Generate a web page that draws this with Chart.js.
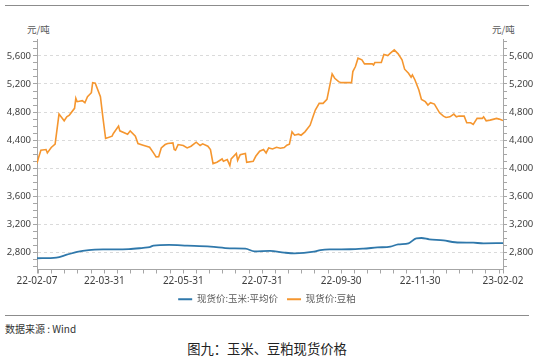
<!DOCTYPE html>
<html><head><meta charset="utf-8">
<script src="https://cdn.jsdelivr.net/npm/chart.js@4"></script>
<style>
html,body{margin:0;padding:0;background:#fff;width:534px;height:358px;overflow:hidden;font-family:"Noto Sans","Noto Sans CJK SC",sans-serif}
#wrap{position:absolute;left:0;top:0;width:534px;height:314px}
.rule{position:absolute;left:5px;width:524px;height:0;border-top:1.5px solid #8c8c8c}
.unit{position:absolute;top:22px;font-size:9.5px;color:#595959;font-family:"Noto Sans CJK SC",sans-serif}
#src{position:absolute;left:5px;top:321px;font-size:10px;color:#333;font-family:"Noto Sans CJK SC",sans-serif}
#title{position:absolute;left:0;width:534px;top:339px;text-align:center;font-size:13.3px;color:#222;font-family:"Noto Sans CJK SC",sans-serif}
</style></head>
<body>
<div class="rule" style="top:5px"></div>
<div class="unit" style="left:27px">元/吨</div>
<div class="unit" style="left:492px">元/吨</div>
<div id="wrap"><canvas id="c" width="534" height="314"></canvas></div>
<div class="rule" style="top:315px"></div>
<div id="src">数据来源 : Wind</div>
<div id="title">图九：玉米、豆粕现货价格</div>
<script>
const startDate = '2022-02-07';
const tickLabelDates = ['2022-02-07','2022-03-31','2022-05-31','2022-07-31','2022-09-30','2022-11-30','2023-02-02'];
const seriesNames = ['现货价:玉米:平均价','现货价:豆粕'];
const seriesColors = ['#2f78ab','#f5962f'];

const cornDates = ['2022-02-07','2022-02-22','2022-03-02','2022-03-10','2022-03-19','2022-03-30','2022-04-19','2022-04-30','2022-05-05','2022-05-08','2022-05-20','2022-06-03','2022-06-21','2022-07-06','2022-07-18','2022-07-25','2022-08-06','2022-08-17','2022-08-25','2022-09-09','2022-09-14','2022-09-21','2022-10-07','2022-10-17','2022-10-28','2022-11-07','2022-11-13','2022-11-21','2022-11-27','2022-12-01','2022-12-07','2022-12-18','2022-12-27','2023-01-10','2023-01-18','2023-02-02'];
const cornValues = [2720,2730,2770,2810,2835,2845,2850,2868,2878,2900,2910,2900,2886,2862,2857,2819,2824,2800,2790,2814,2836,2846,2848,2857,2874,2886,2917,2933,3003,3008,2990,2974,2948,2941,2933,2935];

const mealDates = ['2022-02-07','2022-02-08','2022-02-10','2022-02-14','2022-02-15','2022-02-18','2022-02-21','2022-02-24','2022-02-28','2022-03-02','2022-03-04','2022-03-08','2022-03-09','2022-03-10','2022-03-14','2022-03-16','2022-03-18','2022-03-21','2022-03-22','2022-03-24','2022-03-28','2022-03-30','2022-04-01','2022-04-06','2022-04-07','2022-04-11','2022-04-12','2022-04-18','2022-04-20','2022-04-24','2022-04-26','2022-04-30','2022-05-05','2022-05-08','2022-05-10','2022-05-12','2022-05-14','2022-05-17','2022-05-19','2022-05-23','2022-05-24','2022-05-25','2022-05-27','2022-05-31','2022-06-03','2022-06-06','2022-06-10','2022-06-13','2022-06-15','2022-06-19','2022-06-21','2022-06-23','2022-06-26','2022-06-30','2022-07-01','2022-07-04','2022-07-06','2022-07-07','2022-07-11','2022-07-12','2022-07-14','2022-07-18','2022-07-19','2022-07-24','2022-07-26','2022-07-29','2022-08-01','2022-08-03','2022-08-05','2022-08-08','2022-08-11','2022-08-14','2022-08-17','2022-08-19','2022-08-21','2022-08-23','2022-08-25','2022-08-28','2022-08-30','2022-09-02','2022-09-06','2022-09-08','2022-09-10','2022-09-13','2022-09-16','2022-09-19','2022-09-23','2022-09-25','2022-09-28','2022-09-30','2022-10-08','2022-10-09','2022-10-11','2022-10-13','2022-10-16','2022-10-18','2022-10-24','2022-10-25','2022-10-26','2022-10-31','2022-11-02','2022-11-05','2022-11-07','2022-11-10','2022-11-13','2022-11-16','2022-11-18','2022-11-21','2022-11-23','2022-11-24','2022-11-26','2022-11-29','2022-12-01','2022-12-04','2022-12-06','2022-12-08','2022-12-11','2022-12-15','2022-12-18','2022-12-20','2022-12-23','2022-12-26','2022-12-28','2022-12-30','2023-01-03','2023-01-05','2023-01-08','2023-01-10','2023-01-13','2023-01-17','2023-01-18','2023-01-20','2023-01-23','2023-01-26','2023-01-28','2023-01-30','2023-02-01','2023-02-02'];
const mealValues = [4070,4139,4257,4267,4219,4296,4343,4771,4676,4733,4757,4853,4996,4948,4962,4933,5019,5076,5219,5210,5019,4710,4424,4457,4495,4600,4533,4486,4533,4457,4352,4329,4300,4219,4162,4165,4290,4338,4352,4362,4267,4257,4338,4324,4290,4314,4371,4324,4348,4314,4267,4067,4086,4133,4100,4124,4038,4133,4210,4114,4195,4210,4086,4100,4171,4243,4267,4219,4290,4276,4300,4285,4295,4329,4343,4519,4471,4486,4471,4519,4614,4724,4829,4924,4924,4981,5343,5281,5233,5219,5219,5376,5448,5567,5543,5486,5486,5471,5505,5505,5619,5605,5638,5686,5629,5543,5410,5352,5295,5329,5257,5114,4981,4948,4900,4933,4914,4790,4743,4724,4733,4771,4733,4743,4743,4648,4648,4624,4710,4710,4733,4676,4686,4700,4710,4700,4686,4680];

const yMin = 2560, yMax = 5840, yMajorStep = 400, yMinorStep = 100;
const minorPerLabel = 6;

const DAY = 86400000;
const t0 = Date.parse(startDate + 'T00:00:00Z');
const dayOf = s => Math.round((Date.parse(s + 'T00:00:00Z') - t0) / DAY);
const labelDays = tickLabelDates.map(dayOf);
const xMin = labelDays[0], xMax = labelDays[labelDays.length - 1];

function xTickValues() {
  const step = (labelDays[2] - labelDays[1]) / minorPerLabel;
  const vals = [xMin, xMax];
  for (let v = labelDays[1]; v > xMin; v -= step) vals.push(v);
  for (let v = labelDays[1] + step; v < xMax; v += step) vals.push(v);
  return vals.sort((a, b) => a - b);
}
const yTickValues = [];
for (let v = Math.ceil(yMin / yMinorStep) * yMinorStep; v <= yMax; v += yMinorStep) yTickValues.push(v);

const FONT = '"Noto Sans", "Noto Sans CJK SC", sans-serif';
Chart.defaults.font.family = FONT;
const AX = '#a6a6a6';

function yAxis(pos, w) {
  return {
    type: 'linear', position: pos, min: yMin, max: yMax,
    afterBuildTicks: s => { s.ticks = yTickValues.map(v => ({ value: v })); },
    afterFit: s => { s.width = w; },
    ticks: {
      autoSkip: false, padding: 2, color: '#404040', font: { size: 9.5 },
      callback: v => (v % yMajorStep === 0 ? v.toLocaleString('en-US') : '')
    },
    grid: {
      drawOnChartArea: pos === 'left',
      color: c => (c.tick && c.tick.value % yMajorStep === 0 ? '#dadada' : 'rgba(0,0,0,0)'),
      tickColor: AX, tickLength: 4, lineWidth: 1, tickBorderDash: []
    },
    border: { color: AX, width: 1, dash: [3, 3] }
  };
}

new Chart(document.getElementById('c'), {
  type: 'line',
  data: {
    datasets: [
      {
        label: seriesNames[0],
        data: cornDates.map((d, i) => ({ x: dayOf(d), y: cornValues[i] })),
        borderColor: seriesColors[0], backgroundColor: seriesColors[0],
        borderWidth: 1.8, pointRadius: 0, cubicInterpolationMode: 'monotone', fill: false
      },
      {
        label: seriesNames[1],
        data: mealDates.map((d, i) => ({ x: dayOf(d), y: mealValues[i] })),
        borderColor: seriesColors[1], backgroundColor: seriesColors[1],
        borderWidth: 1.6, pointRadius: 0, tension: 0, fill: false
      }
    ]
  },
  options: {
    responsive: false, animation: false, devicePixelRatio: 1,
    layout: { padding: { top: 39, left: 0, right: 0, bottom: 0 } },
    plugins: {
      tooltip: { enabled: false },
      legend: {
        position: 'bottom',
        labels: {
          boxWidth: 14, boxHeight: 2, padding: 9, color: '#595959',
          font: { size: 9.5 },
          generateLabels: chart => Chart.defaults.plugins.legend.labels.generateLabels(chart)
            .map(l => Object.assign(l, { lineWidth: 0, strokeStyle: 'rgba(0,0,0,0)' }))
        }
      }
    },
    scales: {
      x: {
        type: 'linear', min: xMin, max: xMax,
        afterBuildTicks: s => { s.ticks = xTickValues().map(v => ({ value: v })); },
        afterFit: s => { s.height = 16; },
        ticks: {
          autoSkip: false, maxRotation: 0, minRotation: 0, padding: 2, color: '#404040', font: { size: 10 },
          callback: v => {
            const i = labelDays.findIndex(d => Math.abs(d - v) < 0.01);
            return i >= 0 ? tickLabelDates[i].slice(2) : '';
          }
        },
        grid: { drawOnChartArea: false, tickColor: AX, tickLength: 4 },
        border: { color: AX, width: 1 }
      },
      y: yAxis('left', 37),
      y2: yAxis('right', 31)
    }
  }
});
</script>
</body></html>
